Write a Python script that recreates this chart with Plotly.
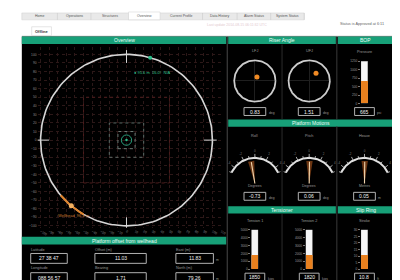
import numpy as np
import plotly.graph_objects as go

# ---------------- data ----------------
tab_labels = ["Home", "Operations", "Structures", "Overview", "Current Profile",
              "Data History", "Alarm Status", "System Status"]
active_tab = "Overview"
status_text = "Status is Approved at 6:11"
faint_text = "Last update 2014-08-15 06:11:32 UTC"

overview_ticks = list(range(-110, 111, 10))
watch_radius = 100
orange_arc_deg = [220, 240]
rig_marker_deg = 74
wellhead_marker_deg = 230
inner_square_half = [20, 10]
limit_square_half = [50]
centre_ring_radius = 6
rig_label = "● 95.6 m  16.0°  N/A"
wellhead_label = "Wellhead  96.8 m"

offset_labels = ["Latitude", "Offset (m)", "East (m)", "Longitude", "Bearing", "North (m)"]
offset_values = ["27 38 47", "11.03", "11.83", "088 56 57", "1.71", "79.26"]

riser_names = ["LFJ", "UFJ"]
riser_x = [0.10, 0.33]
riser_y = [0.19, 0.38]
riser_values = ["0.83", "1.51"]

bop_label = "Pressure"
bop_max = 1250
bop_tick_step = 250
bop_value = 665

motion_names = ["Roll", "Pitch", "Heave"]
motion_units = ["Degrees", "Degrees", "Metres"]
motion_values = [-0.73, 0.06, 0.05]
motion_span = 5

tension_names = ["Tension 1", "Tension 2", "Stroke"]
tension_max = [5000, 5000, 30]
tension_tick_step = [1000, 1000, 5]
tension_values = [1850, 1820, 10.8]
tension_text = ["1850", "1820", "10.8"]

# ---------------- helpers ----------------
W, H = 400, 280
GREEN = "#17a078"
FONT = "Liberation Sans, Arial, sans-serif"
shapes, annotations, axes = [], [], {}


def fx(x):
    return x / W


def fy(y):
    return 1 - y / H


def rect(x0, y0, x1, y1, fill, line=None, lw=0):
    shapes.append(dict(type="rect", xref="paper", yref="paper", x0=fx(x0), x1=fx(x1),
                       y0=fy(y1), y1=fy(y0), fillcolor=fill,
                       line=dict(color=line if line else fill, width=lw), layer="below"))


def vline(x, y0, y1, color="#3a3a3a", w=1):
    shapes.append(dict(type="line", xref="paper", yref="paper", x0=fx(x), x1=fx(x),
                       y0=fy(y1), y1=fy(y0), line=dict(color=color, width=w), layer="below"))


def hline(x0, x1, y, color="#3a3a3a", w=1):
    shapes.append(dict(type="line", xref="paper", yref="paper", x0=fx(x0), x1=fx(x1),
                       y0=fy(y), y1=fy(y), line=dict(color=color, width=w), layer="below"))


def label(x, y, s, size=5, color="#cfcfcf", anchor="center"):
    annotations.append(dict(xref="paper", yref="paper", x=fx(x), y=fy(y), text=s,
                            showarrow=False, font=dict(size=size, color=color, family=FONT),
                            xanchor=anchor, yanchor="middle", borderpad=0))


def valuebox(x0, y0, x1, y1, s, unit=None):
    rect(x0, y0, x1, y1, "#000000", "#b0b0b0", 1)
    label((x0 + x1) / 2, (y0 + y1) / 2, s, size=5, color="#f2f2f2")
    if unit:
        label(x1 + 2, (y0 + y1) / 2 + 1.5, unit, size=3.3, color="#9a9a9a", anchor="left")


def header(x0, x1, y0, y1, s):
    rect(x0, y0, x1, y1, GREEN)
    label((x0 + x1) / 2, (y0 + y1) / 2, s, size=5, color="#e8fff6")


def add_axes(n, xd, yd, xr, yr, xextra=None, yextra=None):
    sfx = "" if n == 1 else str(n)
    base = dict(showgrid=False, zeroline=False, showticklabels=False, ticks="",
                fixedrange=True, showline=False)
    ax = dict(base, domain=[fx(xd[0]), fx(xd[1])], range=xr, anchor="y" + sfx)
    ay = dict(base, domain=[fy(yd[1]), fy(yd[0])], range=yr, anchor="x" + sfx)
    if xextra:
        ax.update(xextra)
    if yextra:
        ay.update(yextra)
    axes["xaxis" + sfx] = ax
    axes["yaxis" + sfx] = ay
    return "x" + sfx, "y" + sfx


fig = go.Figure()

# ---------------- page chrome ----------------
tab_edges = [14, 50, 84, 122, 154, 197, 232, 266, 300]
rect(14, 3, 300, 10, "#e9e9e9", "#d0d0d0", 0.5)
for i, t in enumerate(tab_labels):
    x0, x1 = tab_edges[i], tab_edges[i + 1]
    if t == active_tab:
        rect(x0, 2, x1, 10, "#ffffff", "#d0d0d0", 0.5)
    else:
        vline(x1, 3, 10, "#c4c4c4", 0.5)
    label((x0 + x1) / 2, 6.5, t, size=3.5, color="#555555")
label(200, 15, faint_text, size=3.5, color="#e3c9cf", anchor="left")
label(382, 14, status_text, size=3.8, color="#666666", anchor="right")
rect(24, 17, 44, 26, "#ffffff", "#cccccc", 0.5)
label(34, 21.5, "<b>Offline</b>", size=4, color="#333333")
hline(14, 391, 26, "#d8d8d8", 0.5)

# black dashboard body
rect(14, 27, 391, 280, "#000000")
header(14, 221, 27, 34.5, "Overview")
header(223, 332, 27, 34.5, "Riser Angle")
header(334, 391, 27, 34.5, "BOP")
header(223, 391, 111, 118.5, "Platform Motions")
header(223, 332, 199, 206.5, "Tensioner")
header(334, 391, 199, 206.5, "Slip Ring")
header(14, 221, 230, 238, "Platform offset from wellhead")
vline(222, 27, 280, "#4a4a4a", 1)
vline(333, 27, 111, "#3a3a3a", 1)
vline(333, 118, 280, "#3a3a3a", 1)
vline(277.5, 35, 111, "#2c2c2c", 1)
vline(277.5, 119, 199, "#2c2c2c", 1)
vline(277.5, 207, 280, "#2c2c2c", 1)
vline(390.5, 27, 280, "#5a5a5a", 1)

# ---------------- overview ----------------
s = 0.87
cx, cy = 120, 132
grid = dict(showgrid=True, gridcolor="#2c1818", griddash="dot", gridwidth=1,
            tickvals=overview_ticks, showticklabels=True,
            tickfont=dict(size=3.3, color="#8a8a8a", family=FONT))
xo, yo = add_axes(1, (30, 216), (38, 221),
                  [(30 - cx) / s, (216 - cx) / s], [(cy - 221) / s, (cy - 38) / s],
                  xextra=grid, yextra=grid)

th = np.radians(np.arange(0, 361, 2))
fig.add_trace(go.Scatter(x=watch_radius * np.cos(th), y=watch_radius * np.sin(th),
                         mode="lines", line=dict(color="#d6d6d6", width=1.6),
                         hoverinfo="skip", xaxis=xo, yaxis=yo))
tha = np.radians(np.linspace(orange_arc_deg[0], orange_arc_deg[1], 20))
fig.add_trace(go.Scatter(x=watch_radius * np.cos(tha), y=watch_radius * np.sin(tha),
                         mode="lines", line=dict(color="#e0842c", width=2),
                         hoverinfo="skip", xaxis=xo, yaxis=yo))
tx, ty = [], []
for d in [0, 90, 180, 270]:
    r = np.radians(d)
    tx += [0.9 * watch_radius * np.cos(r), 1.05 * watch_radius * np.cos(r), None]
    ty += [0.9 * watch_radius * np.sin(r), 1.05 * watch_radius * np.sin(r), None]
fig.add_trace(go.Scatter(x=tx, y=ty, mode="lines", line=dict(color="#d6d6d6", width=1),
                         hoverinfo="skip", xaxis=xo, yaxis=yo))
rr = np.radians(rig_marker_deg)
fig.add_trace(go.Scatter(x=[watch_radius * np.cos(rr)], y=[watch_radius * np.sin(rr)],
                         mode="markers", marker=dict(color="#2cc08c", size=4),
                         hoverinfo="skip", xaxis=xo, yaxis=yo))
rw = np.radians(wellhead_marker_deg)
fig.add_trace(go.Scatter(x=[watch_radius * np.cos(rw)], y=[watch_radius * np.sin(rw)],
                         mode="markers", marker=dict(color="#f2b060", size=5),
                         hoverinfo="skip", xaxis=xo, yaxis=yo))
fig.add_trace(go.Scatter(x=[0], y=[0], mode="markers",
                         marker=dict(color="#2cc08c", size=2.5),
                         hoverinfo="skip", xaxis=xo, yaxis=yo))
for h in limit_square_half:
    shapes.append(dict(type="rect", xref=xo, yref=yo, x0=-h, x1=h, y0=-h, y1=h,
                       line=dict(color="#4e1c1c", width=1, dash="dot"), layer="above"))
for h, c in zip(inner_square_half, ["#5f6d69", "#6d7a76"]):
    shapes.append(dict(type="rect", xref=xo, yref=yo, x0=-h, x1=h, y0=-h, y1=h,
                       line=dict(color=c, width=1, dash="dot"), layer="above"))
shapes.append(dict(type="circle", xref=xo, yref=yo, x0=-centre_ring_radius, x1=centre_ring_radius,
                   y0=-centre_ring_radius, y1=centre_ring_radius,
                   line=dict(color="#2a9f7c", width=1), layer="above"))
annotations.append(dict(xref=xo, yref=yo, x=6, y=79, text=rig_label, showarrow=False,
                        font=dict(size=4, color="#2cc08c", family=FONT), xanchor="left"))
annotations.append(dict(xref=xo, yref=yo, x=-82, y=-88, text=wellhead_label, showarrow=False,
                        font=dict(size=4, color="#c87a30", family=FONT), xanchor="left"))

# offset boxes
cols = [(23, 60), (88, 140), (170, 208)]
rows = [(243, 247, 257), (262, 266.5, 276.5)]
for k, (lab, val) in enumerate(zip(offset_labels, offset_values)):
    ri, ci = divmod(k, 3)
    ly, b0, b1 = rows[ri]
    x0, x1 = cols[ci]
    label(x0 - 1, ly, lab, size=3.8, color="#9a9a9a", anchor="left")
    valuebox(x0, b0, x1, b1, val, "m" if ci == 2 else None)

# ---------------- riser angle ----------------
for i, c in enumerate([250, 305]):
    zl = dict(zeroline=True, zerolinecolor="#1f1f1f", zerolinewidth=1)
    xa, ya = add_axes(2 + i, (c - 22, c + 22), (50, 94), [-1.05, 1.05], [-1.05, 1.05],
                      xextra=zl, yextra=zl)
    fig.add_trace(go.Scatter(x=np.cos(th), y=np.sin(th), mode="lines",
                             line=dict(color="#cdcdcd", width=1.8), hoverinfo="skip",
                             xaxis=xa, yaxis=ya))
    fig.add_trace(go.Scatter(x=[riser_x[i]], y=[riser_y[i]], mode="markers",
                             marker=dict(color="#f08a24", size=5), hoverinfo="skip",
                             xaxis=xa, yaxis=ya))
    label(c, 42, riser_names[i], size=3.8, color="#9a9a9a")
    valuebox(c - 11, 99, c + 11, 107, riser_values[i], "deg")

# ---------------- thermometers ----------------
def thermometer(n, c, top, bottom, vmax, step, value, name, text, unit):
    ytick = dict(showticklabels=True, tickvals=list(np.arange(0, vmax + step / 2, step)),
                 tickfont=dict(size=3.2, color="#9a9a9a", family=FONT),
                 ticks="outside", ticklen=2, tickcolor="#777777")
    xa, ya = add_axes(n, (c - 3.5, c + 3.5), (top, bottom), [-0.5, 0.5], [0, vmax],
                      yextra=ytick)
    fig.add_trace(go.Bar(x=[0], y=[vmax], width=1, marker=dict(color="#f6f6f6",
                         line=dict(color="#bbbbbb", width=0.5)),
                         hoverinfo="skip", xaxis=xa, yaxis=ya))
    fig.add_trace(go.Bar(x=[0], y=[value], width=1, marker=dict(color="#e8801e", line=dict(width=0)),
                         hoverinfo="skip", xaxis=xa, yaxis=ya))
    label(c, top - 9, name, size=3.8, color="#9a9a9a")
    valuebox(c - 10, bottom + 4, c + 10, bottom + 12, text, unit)


thermometer(4, 361, 52, 95, bop_max, bop_tick_step, bop_value, bop_label, str(bop_value), "psi")
for i, c in enumerate([250, 305, 361]):
    thermometer(8 + i, c, 223, 263, tension_max[i], tension_tick_step[i], tension_values[i],
                tension_names[i], tension_text[i], "kips" if i < 2 else "ft")

# ---------------- platform motion gauges ----------------
for i, c in enumerate([250, 305, 361]):
    xa, ya = add_axes(5 + i, (c - 31, c + 31), (140, 196), [-31, 31], [-20, 36])
    R = 26
    arc = np.radians(np.linspace(25, 155, 60))
    fig.add_trace(go.Scatter(x=R * np.cos(arc), y=R * np.sin(arc), mode="lines",
                             line=dict(color="#e0e0e0", width=2), hoverinfo="skip",
                             xaxis=xa, yaxis=ya))
    gx, gy = [], []
    for v in range(-motion_span, motion_span + 1):
        a = np.radians(90 - v * 13)
        r2 = 30 if v % 2 == 0 else 28.5
        gx += [R * np.cos(a), r2 * np.cos(a), None]
        gy += [R * np.sin(a), r2 * np.sin(a), None]
    fig.add_trace(go.Scatter(x=gx, y=gy, mode="lines", line=dict(color="#cfcfcf", width=0.8),
                             hoverinfo="skip", xaxis=xa, yaxis=ya))
    lv = [-4, -2, 0, 2, 4]
    la = np.radians([90 - v * 13 for v in lv])
    fig.add_trace(go.Scatter(x=33 * np.cos(la), y=33 * np.sin(la), mode="text",
                             text=[str(v) for v in lv],
                             textfont=dict(size=3, color="#7a7a7a", family=FONT),
                             hoverinfo="skip", xaxis=xa, yaxis=ya))
    a0 = 90 - motion_values[i] * 13
    wa = np.radians(np.linspace(a0 - 8, a0 + 8, 10))
    fig.add_trace(go.Scatter(x=np.r_[0, 23 * np.cos(wa), 0], y=np.r_[0, 23 * np.sin(wa), 0],
                             mode="lines", fill="toself", fillcolor="#6a3512",
                             line=dict(width=0, color="#6a3512"), hoverinfo="skip",
                             xaxis=xa, yaxis=ya))
    ar = np.radians(a0)
    fig.add_trace(go.Scatter(x=[0, 22 * np.cos(ar)], y=[0, 22 * np.sin(ar)], mode="lines",
                             line=dict(color="#f1d5ae", width=1.1), hoverinfo="skip",
                             xaxis=xa, yaxis=ya))
    label(c, 128, motion_names[i], size=3.8, color="#9a9a9a")
    label(c, 179, motion_units[i], size=3.6, color="#9a9a9a")
    valuebox(c - 11, 185, c + 11, 193, f"{motion_values[i]:.2f}", "deg" if i < 2 else "m")

fig.update_layout(width=W, height=H, margin=dict(l=0, r=0, t=0, b=0),
                  paper_bgcolor="#ffffff", plot_bgcolor="rgba(0,0,0,0)",
                  showlegend=False, barmode="overlay", bargap=0,
                  shapes=shapes, annotations=annotations,
                  font=dict(family=FONT), **axes)
fig.write_html("out.html")
